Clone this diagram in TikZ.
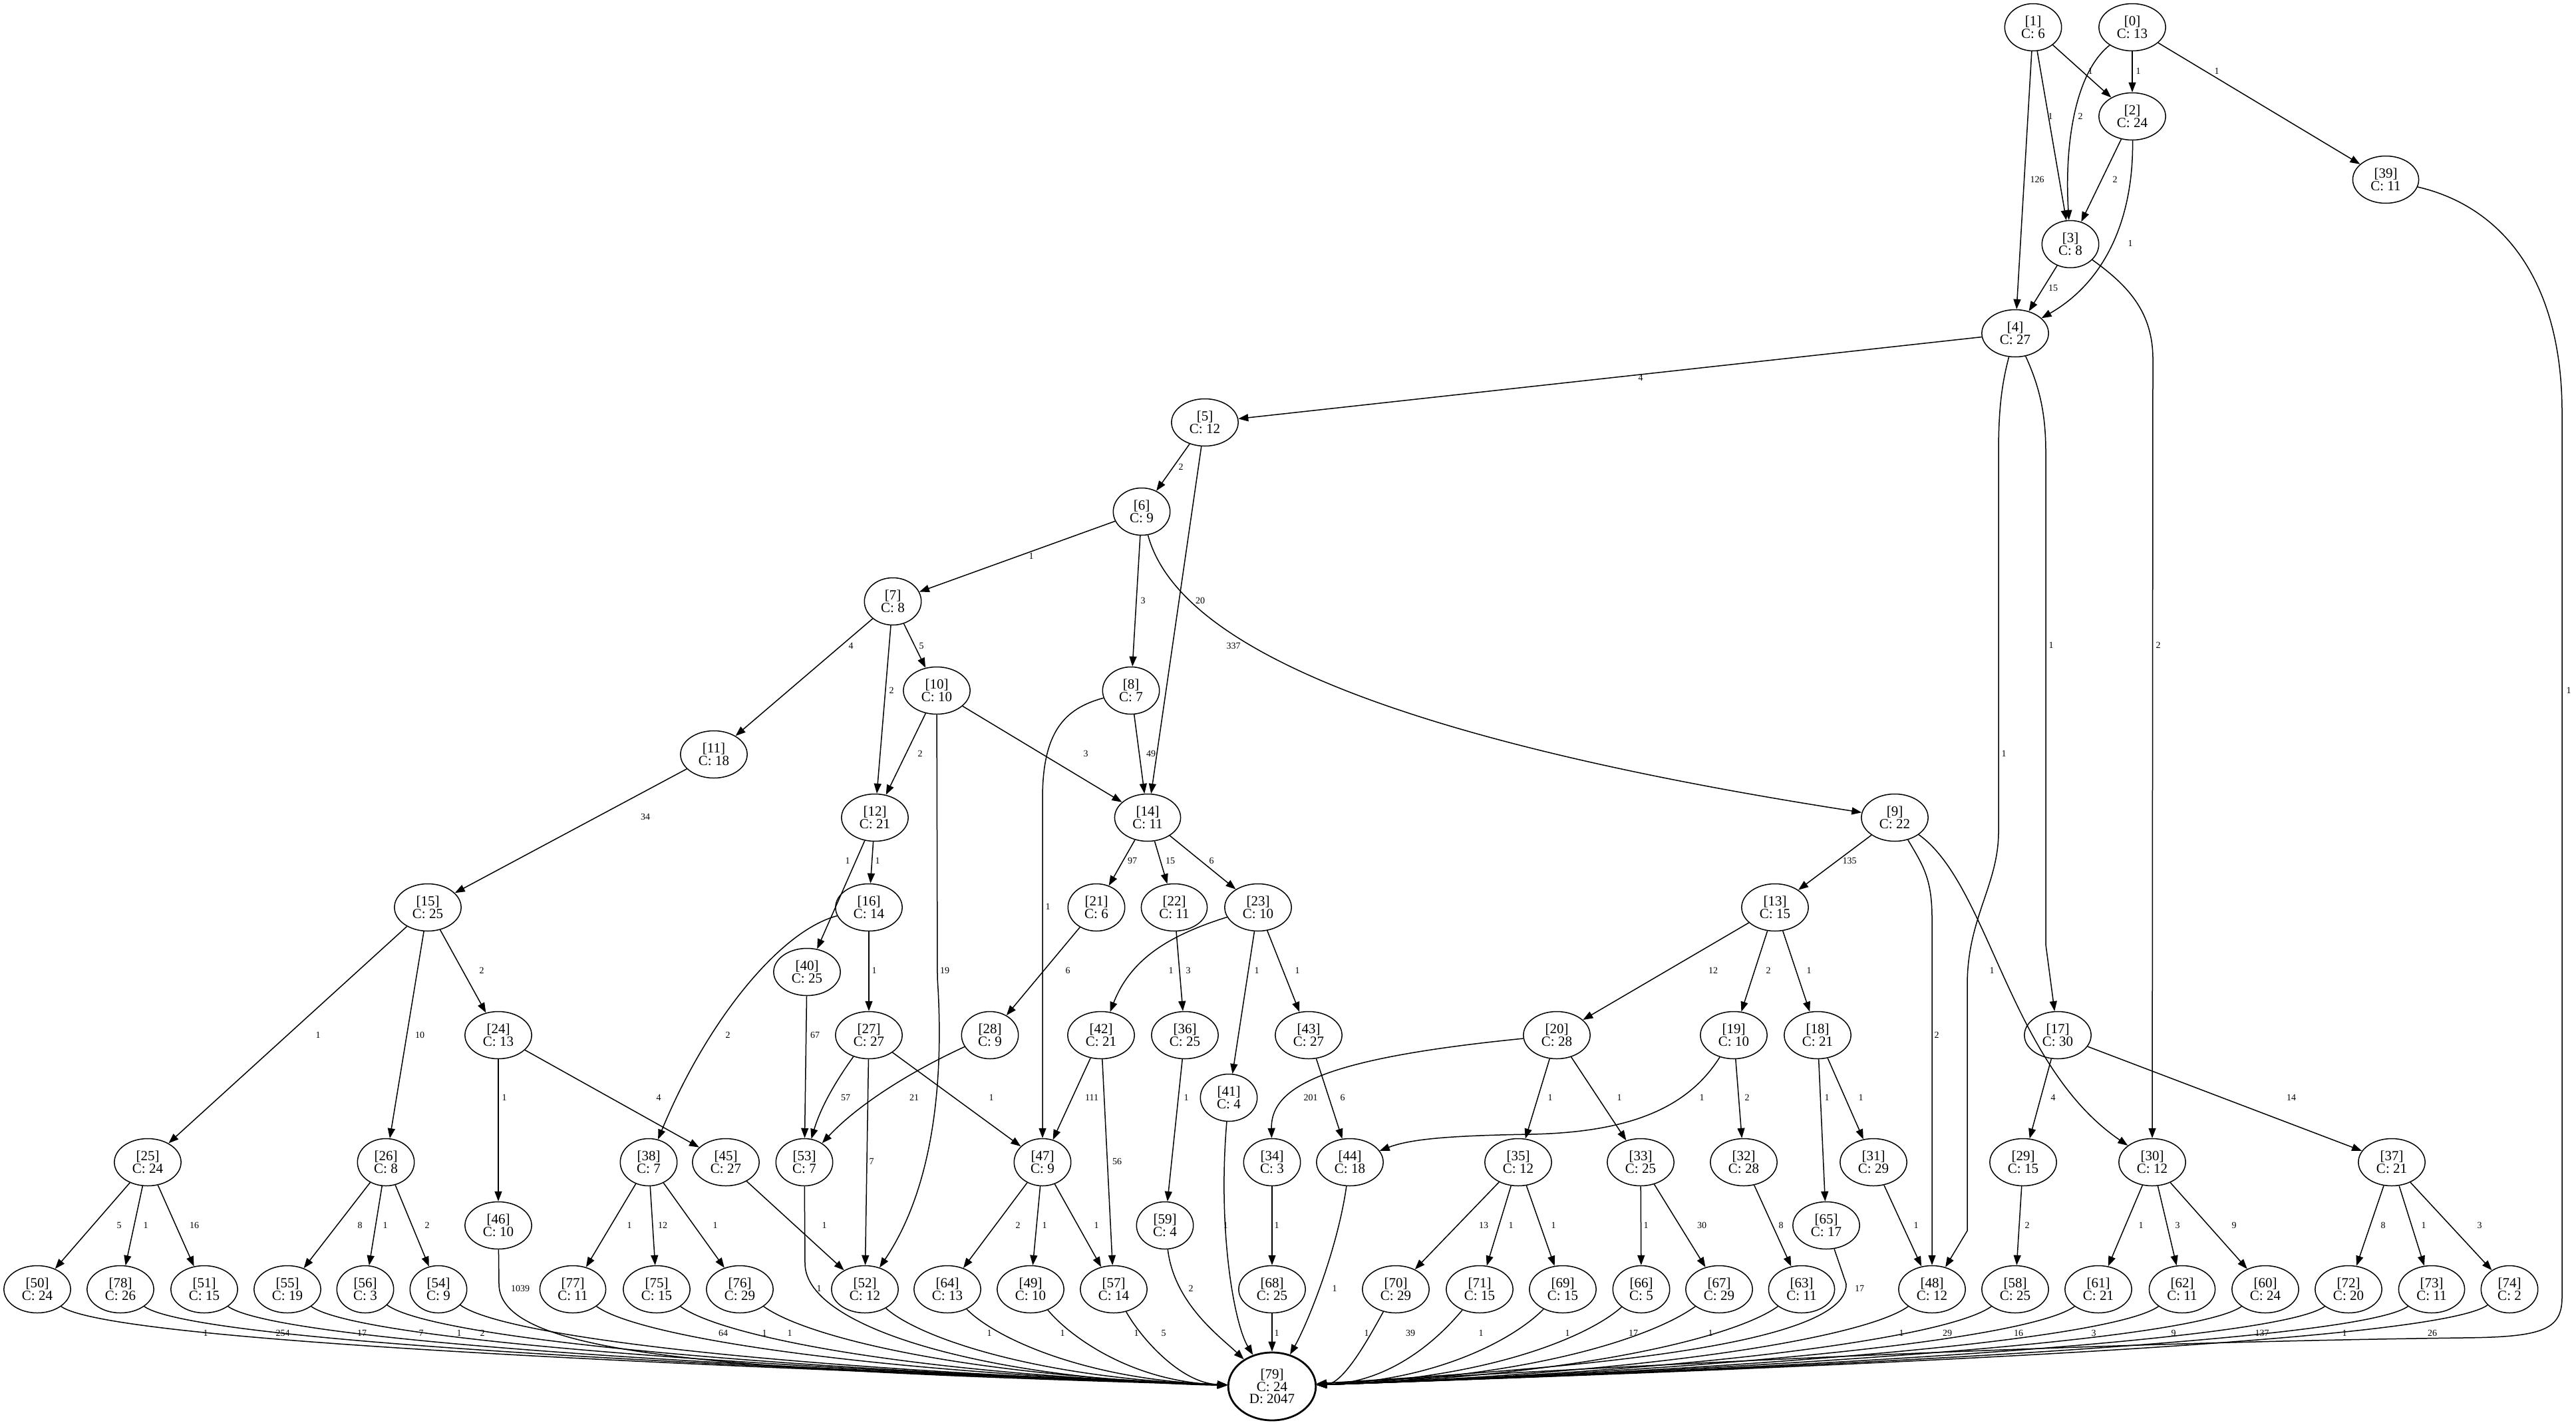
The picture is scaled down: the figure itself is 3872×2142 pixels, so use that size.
\documentclass[tikz,border=0pt]{standalone}
\usepackage{fontspec}
\setmainfont{Liberation Serif}
\usetikzlibrary{shapes.geometric,arrows.meta}
\tikzset{
  gn/.style={ellipse, draw, line width=0.75pt, inner xsep=6.2pt, inner ysep=3.2pt, minimum height=35.5pt, align=center, font=\fontsize{10.5}{9.4}\selectfont},
  el/.style={font=\fontsize{7}{8}\selectfont, inner sep=0pt},
  e/.style={draw, line width=0.75pt, -{Triangle[length=7.5pt,width=5.5pt]}}
}
\newcommand\gnode[4]{\node[gn] (n#1) at (#2,#3) {[#1]\\C: #4};}
\newcommand\elab[4]{\node[el] (l#1) at (#2,#3) {#4};}
\newcommand\tobot[5]{\draw[e] (#1) .. controls +(#2,#3) and +(#4,#5) .. (n79);}
\begin{document}
\begin{tikzpicture}[x=0.5pt,y=-0.5pt]
\useasboundingbox (0,0) rectangle (3872,2142);
% nodes
\gnode{0}{3205}{41}{13}
\gnode{1}{3056}{41}{6}
\gnode{2}{3205}{175}{24}
\gnode{39}{3586}{270}{11}
\gnode{3}{3112}{367}{8}
\gnode{4}{3029}{501}{27}
\gnode{5}{1811}{635}{12}
\gnode{6}{1716}{769}{9}
\gnode{7}{1342}{904}{8}
\gnode{10}{1408}{1038}{10}
\gnode{8}{1700}{1038}{7}
\gnode{11}{1073}{1134}{18}
\gnode{12}{1315}{1229}{21}
\gnode{14}{1725}{1229}{11}
\gnode{9}{2848}{1229}{22}
\gnode{15}{643}{1364}{25}
\gnode{16}{1306}{1364}{14}
\gnode{21}{1648}{1364}{6}
\gnode{22}{1765}{1364}{11}
\gnode{23}{1891}{1364}{10}
\gnode{13}{2668}{1364}{15}
\gnode{40}{1213}{1461}{25}
\gnode{24}{749}{1556}{13}
\gnode{27}{1306}{1556}{27}
\gnode{28}{1488}{1556}{9}
\gnode{42}{1655}{1556}{21}
\gnode{36}{1781}{1556}{25}
\gnode{43}{1967}{1556}{27}
\gnode{20}{2340}{1556}{28}
\gnode{19}{2606}{1556}{10}
\gnode{18}{2732}{1556}{21}
\gnode{17}{3093}{1556}{30}
\gnode{41}{1847}{1650}{4}
\gnode{25}{222}{1747}{24}
\gnode{26}{580}{1747}{8}
\gnode{38}{975}{1747}{7}
\gnode{45}{1091}{1747}{27}
\gnode{53}{1209}{1747}{7}
\gnode{47}{1567}{1747}{9}
\gnode{34}{1912}{1747}{3}
\gnode{44}{2029}{1747}{18}
\gnode{35}{2282}{1747}{12}
\gnode{33}{2466}{1747}{25}
\gnode{32}{2621}{1747}{28}
\gnode{31}{2816}{1747}{29}
\gnode{29}{3041}{1747}{15}
\gnode{30}{3235}{1747}{12}
\gnode{37}{3595}{1747}{21}
\gnode{46}{749}{1842}{10}
\gnode{59}{1751}{1842}{4}
\gnode{65}{2745}{1842}{17}
\gnode{50}{56}{1938}{24}
\gnode{78}{181}{1938}{26}
\gnode{51}{307}{1938}{15}
\gnode{55}{432}{1938}{19}
\gnode{56}{549}{1938}{3}
\gnode{54}{659}{1938}{9}
\gnode{77}{861}{1938}{11}
\gnode{75}{987}{1938}{15}
\gnode{76}{1112}{1938}{29}
\gnode{52}{1300}{1938}{12}
\gnode{64}{1424}{1938}{13}
\gnode{49}{1549}{1938}{10}
\gnode{57}{1674}{1938}{14}
\gnode{68}{1912}{1938}{25}
\gnode{70}{2098}{1938}{29}
\gnode{71}{2224}{1938}{15}
\gnode{69}{2349}{1938}{15}
\gnode{66}{2467}{1938}{5}
\gnode{67}{2584}{1938}{29}
\gnode{63}{2708}{1938}{11}
\gnode{48}{2904}{1938}{12}
\gnode{58}{3029}{1938}{25}
\gnode{61}{3154}{1938}{21}
\gnode{62}{3280}{1938}{11}
\gnode{60}{3405}{1938}{24}
\gnode{72}{3530}{1938}{20}
\gnode{73}{3655}{1938}{11}
\gnode{74}{3772}{1938}{2}
\node[gn, line width=1.4pt, minimum height=51pt] (n79) at (1912,2084) {[79]\\C: 24\\D: 2047};
% edges top
\draw[e] (n1) -- (n2);
\draw[e] (n1) -- (n3);
\draw[e] (n1) -- (n4);
\draw[e] (n0) -- (n2);
\draw[e] (n0) .. controls (3118,110) and (3103,220) .. (n3);
\draw[e] (n0) -- (n39);
\draw[e] (n2) -- (n3);
\draw[e] (n2) .. controls (3207,320) and (3170,420) .. (n4);
\draw[e] (n3) -- (n4);
\draw[e] (n3) .. controls (3200,430) and (3236,470) .. (3236,540) -- (n30);
\draw[e] (n4) -- (n5);
\draw[e] (n4) .. controls (3008,580) and (3004,620) .. (3004,680) -- (3004,1250) .. controls (3004,1330) and (2957,1380) .. (2957,1480) -- (2957,1850) -- (n48);
\draw[e] (n4) .. controls (3065,580) and (3075,620) .. (3075,680) -- (3075,1420) -- (n17);
\draw[e] (n39) .. controls (3760,310) and (3851,420) .. (3851,620) -- (3851,1950) .. controls (3851,2000) and (3820,2010) .. (3700,2011) .. controls (3000,2020) and (2300,2062) .. (n79);
\draw[e] (n5) -- (n6);
\draw[e] (n5) -- (n14);
\draw[e] (n6) -- (n7);
\draw[e] (n6) -- (n8);
\draw[e] (n6) .. controls (1778,1000) and (2206,1129) .. (n9);
\draw[e] (n7) -- (n11);
\draw[e] (n7) -- (n12);
\draw[e] (n7) -- (n10);
\draw[e] (n10) -- (n12);
\draw[e] (n10) -- (n14);
\draw[e] (n10) -- (1409,1470) .. controls (1415,1560) and (1420,1760) .. (n52);
\draw[e] (n8) -- (n14);
\draw[e] (n8) .. controls (1600,1065) and (1567,1100) .. (1567,1200) -- (n47);
\draw[e] (n11) -- (n15);
\draw[e] (n12) -- (n40);
\draw[e] (n12) -- (n16);
\draw[e] (n14) -- (n21);
\draw[e] (n14) -- (n22);
\draw[e] (n14) -- (n23);
\draw[e] (n9) -- (n13);
\draw[e] (n9) .. controls (2890,1300) and (2904,1320) .. (2904,1380) -- (n48);
\draw[e] (n9) .. controls (2990,1330) and (3020,1600) .. (n30);
\draw[e] (n15) -- (n25);
\draw[e] (n15) -- (n26);
\draw[e] (n15) -- (n24);
\draw[e] (n16) .. controls (1170,1400) and (1060,1540) .. (n38);
\draw[e] (n16) -- (n27);
\draw[e] (n21) -- (n28);
\draw[e] (n22) -- (n36);
\draw[e] (n23) .. controls (1760,1405) and (1700,1440) .. (n42);
\draw[e] (n23) -- (n41);
\draw[e] (n23) -- (n43);
\draw[e] (n13) -- (n20);
\draw[e] (n13) -- (n19);
\draw[e] (n13) -- (n18);
\draw[e] (n40) -- (n53);
\draw[e] (n24) -- (n46);
\draw[e] (n24) -- (n45);
\draw[e] (n27) .. controls (1260,1620) and (1235,1660) .. (n53);
\draw[e] (n27) -- (n52);
\draw[e] (n27) -- (n47);
\draw[e] (n28) .. controls (1370,1610) and (1290,1660) .. (n53);
\draw[e] (n42) -- (n47);
\draw[e] (n42) -- (n57);
\draw[e] (n36) -- (n59);
\draw[e] (n43) -- (n44);
\draw[e] (n20) .. controls (2000,1590) and (1910,1630) .. (n34);
\draw[e] (n20) -- (n35);
\draw[e] (n20) -- (n33);
\draw[e] (n19) .. controls (2540,1660) and (2460,1702) .. (2300,1705) .. controls (2180,1707) and (2120,1712) .. (n44);
\draw[e] (n19) -- (n32);
\draw[e] (n18) -- (n65);
\draw[e] (n18) -- (n31);
\draw[e] (n17) -- (n29);
\draw[e] (n17) -- (n37);
\draw[e] (n25) -- (n50);
\draw[e] (n25) -- (n78);
\draw[e] (n25) -- (n51);
\draw[e] (n26) -- (n55);
\draw[e] (n26) -- (n56);
\draw[e] (n26) -- (n54);
\draw[e] (n38) -- (n77);
\draw[e] (n38) -- (n75);
\draw[e] (n38) -- (n76);
\draw[e] (n45) -- (n52);
\draw[e] (n47) -- (n64);
\draw[e] (n47) -- (n49);
\draw[e] (n47) -- (n57);
\draw[e] (n34) -- (n68);
\draw[e] (n35) -- (n70);
\draw[e] (n35) -- (n71);
\draw[e] (n35) -- (n69);
\draw[e] (n33) -- (n66);
\draw[e] (n33) -- (n67);
\draw[e] (n32) -- (n63);
\draw[e] (n31) -- (n48);
\draw[e] (n29) -- (n58);
\draw[e] (n30) -- (n61);
\draw[e] (n30) -- (n62);
\draw[e] (n30) -- (n60);
\draw[e] (n37) -- (n72);
\draw[e] (n37) -- (n73);
\draw[e] (n37) -- (n74);
% edges into 79 from middle
\draw[e] (n41) .. controls (1830,1850) and (1855,1990) .. (n79);
\draw[e] (n53) -- (1210,1900) .. controls (1212,2000) and (1500,2075) .. (n79);
\draw[e] (n46) -- (750,1930) .. controls (750,2040) and (1100,2060) .. (n79);
\draw[e] (n59) .. controls (1765,1960) and (1835,2010) .. (n79);
\draw[e] (n44) .. controls (2010,1880) and (1965,1990) .. (n79);
\draw[e] (n65) -- (2775,1930) .. controls (2778,2030) and (2300,2060) .. (n79);
\draw[e] (n68) -- (n79);
% bottom row into 79
\tobot{n50}{100}{72}{-1076}{-37}
\tobot{n78}{100}{72}{-1004}{-35}
\tobot{n51}{100}{72}{-931}{-32}
\tobot{n55}{100}{72}{-858}{-30}
\tobot{n56}{100}{72}{-790}{-27}
\tobot{n54}{100}{72}{-727}{-25}
\tobot{n77}{100}{72}{-610}{-21}
\tobot{n75}{100}{72}{-536}{-18}
\tobot{n76}{100}{72}{-464}{-16}
\tobot{n52}{80}{72}{-355}{-12}
\tobot{n64}{70}{72}{-283}{-10}
\tobot{n49}{60}{72}{-210}{-7}
\tobot{n57}{40}{72}{-138}{-5}
\tobot{n70}{-40}{72}{108}{-4}
\tobot{n71}{-60}{72}{181}{-6}
\tobot{n69}{-70}{72}{253}{-9}
\tobot{n66}{-80}{72}{322}{-11}
\tobot{n67}{-100}{72}{390}{-13}
\tobot{n63}{-100}{72}{462}{-16}
\tobot{n48}{-100}{72}{575}{-20}
\tobot{n58}{-100}{72}{648}{-22}
\tobot{n61}{-100}{72}{720}{-25}
\tobot{n62}{-100}{72}{793}{-27}
\tobot{n60}{-100}{72}{866}{-30}
\tobot{n72}{-100}{72}{938}{-32}
\tobot{n73}{-100}{72}{1011}{-35}
\tobot{n74}{-100}{72}{1079}{-37}
% edge labels
\elab{a1}{3142}{107}{1}
\elab{a2}{3214}{107}{1}
\elab{a3}{3332}{107}{1}
\elab{a4}{3082}{175}{1}
\elab{a5}{3127}{175}{2}
\elab{a6}{3062}{270}{126}
\elab{a7}{3179}{270}{2}
\elab{a8}{3202}{366}{1}
\elab{a9}{3086}{433}{15}
\elab{b1}{2466}{568}{4}
\elab{b2}{3012}{1133}{1}
\elab{b3}{3083}{970}{1}
\elab{b4}{3244}{970}{2}
\elab{b5}{3861}{1038}{1}
\elab{c1}{1775}{702}{2}
\elab{c2}{1550}{836}{1}
\elab{c3}{1718}{903}{3}
\elab{c4}{1804}{903}{20}
\elab{c5}{1854}{971}{337}
\elab{c6}{1279}{971}{4}
\elab{c7}{1385}{971}{5}
\elab{c8}{1340}{1038}{2}
\elab{c9}{1383}{1133}{2}
\elab{d1}{1632}{1133}{3}
\elab{d2}{1730}{1133}{49}
\elab{d3}{970}{1228}{34}
\elab{d4}{1274}{1294}{1}
\elab{d5}{1319}{1294}{1}
\elab{d6}{1702}{1294}{97}
\elab{d7}{1759}{1294}{15}
\elab{d8}{1821}{1294}{6}
\elab{d9}{2780}{1294}{135}
\elab{e1}{1420}{1459}{19}
\elab{e2}{1575}{1363}{1}
\elab{e3}{724}{1459}{2}
\elab{e4}{478}{1556}{1}
\elab{e5}{631}{1556}{10}
\elab{e6}{1094}{1556}{2}
\elab{e7}{1314}{1459}{1}
\elab{e8}{1225}{1556}{67}
\elab{e9}{1605}{1459}{6}
\elab{f1}{1760}{1459}{1}
\elab{f2}{1786}{1459}{3}
\elab{f3}{1889}{1459}{1}
\elab{f4}{1950}{1459}{1}
\elab{f5}{2575}{1459}{12}
\elab{f6}{2658}{1459}{2}
\elab{f7}{2719}{1459}{1}
\elab{f8}{2994}{1459}{1}
\elab{f9}{2911}{1556}{2}
\elab{g1}{758}{1650}{1}
\elab{g2}{990}{1650}{4}
\elab{g3}{1271}{1650}{57}
\elab{g4}{1374}{1650}{21}
\elab{g5}{1490}{1650}{1}
\elab{g6}{1641}{1650}{111}
\elab{g7}{1783}{1650}{1}
\elab{g8}{1970}{1650}{201}
\elab{g9}{2018}{1650}{6}
\elab{h1}{2330}{1650}{1}
\elab{h2}{2434}{1650}{1}
\elab{h3}{2558}{1650}{1}
\elab{h4}{2626}{1650}{2}
\elab{h5}{2746}{1650}{1}
\elab{h6}{2797}{1650}{1}
\elab{h7}{3086}{1650}{4}
\elab{h8}{3444}{1650}{14}
\elab{h9}{1310}{1746}{7}
\elab{i1}{1679}{1746}{56}
\elab{j1}{179}{1842}{5}
\elab{j2}{219}{1842}{1}
\elab{j3}{292}{1842}{16}
\elab{j4}{541}{1842}{8}
\elab{j5}{579}{1842}{1}
\elab{j6}{642}{1842}{2}
\elab{j7}{946}{1842}{1}
\elab{j8}{996}{1842}{12}
\elab{j9}{1075}{1842}{1}
\elab{k1}{1239}{1842}{1}
\elab{k2}{1530}{1842}{2}
\elab{k3}{1570}{1842}{1}
\elab{k4}{1648}{1842}{1}
\elab{k5}{1842}{1842}{1}
\elab{k6}{1919}{1842}{1}
\elab{k7}{2230}{1842}{13}
\elab{k8}{2271}{1842}{1}
\elab{k9}{2335}{1842}{1}
\elab{m1}{2474}{1842}{1}
\elab{m2}{2558}{1842}{30}
\elab{m3}{2677}{1842}{8}
\elab{m4}{2880}{1842}{1}
\elab{m5}{3047}{1842}{2}
\elab{m6}{3218}{1842}{1}
\elab{m7}{3273}{1842}{3}
\elab{m8}{3358}{1842}{9}
\elab{m9}{3582}{1842}{8}
\elab{o1}{3643}{1842}{1}
\elab{o2}{3727}{1842}{3}
\elab{p1}{782}{1937}{1039}
\elab{p2}{1231}{1937}{1}
\elab{p3}{1790}{1937}{2}
\elab{p4}{2006}{1937}{1}
\elab{p5}{2795}{1937}{17}
\elab{q1}{309}{2004}{1}
\elab{q2}{425}{2004}{254}
\elab{q3}{544}{2004}{17}
\elab{q4}{633}{2004}{7}
\elab{q5}{690}{2004}{1}
\elab{q6}{725}{2004}{2}
\elab{q7}{1087}{2004}{64}
\elab{q8}{1149}{2004}{1}
\elab{q9}{1187}{2004}{1}
\elab{r1}{1487}{2004}{1}
\elab{r2}{1597}{2004}{1}
\elab{r3}{1708}{2004}{1}
\elab{r4}{1749}{2004}{5}
\elab{r5}{1919}{2004}{1}
\elab{r6}{2054}{2004}{1}
\elab{r7}{2120}{2004}{39}
\elab{r8}{2226}{2004}{1}
\elab{r9}{2356}{2004}{1}
\elab{s1}{2455}{2004}{17}
\elab{s2}{2571}{2004}{1}
\elab{s3}{2858}{2004}{1}
\elab{s4}{2927}{2004}{29}
\elab{s5}{3034}{2004}{16}
\elab{s6}{3147}{2004}{3}
\elab{s7}{3267}{2004}{9}
\elab{s8}{3400}{2004}{137}
\elab{s9}{3524}{2004}{1}
\elab{t1}{3656}{2004}{26}
\end{tikzpicture}
\end{document}
